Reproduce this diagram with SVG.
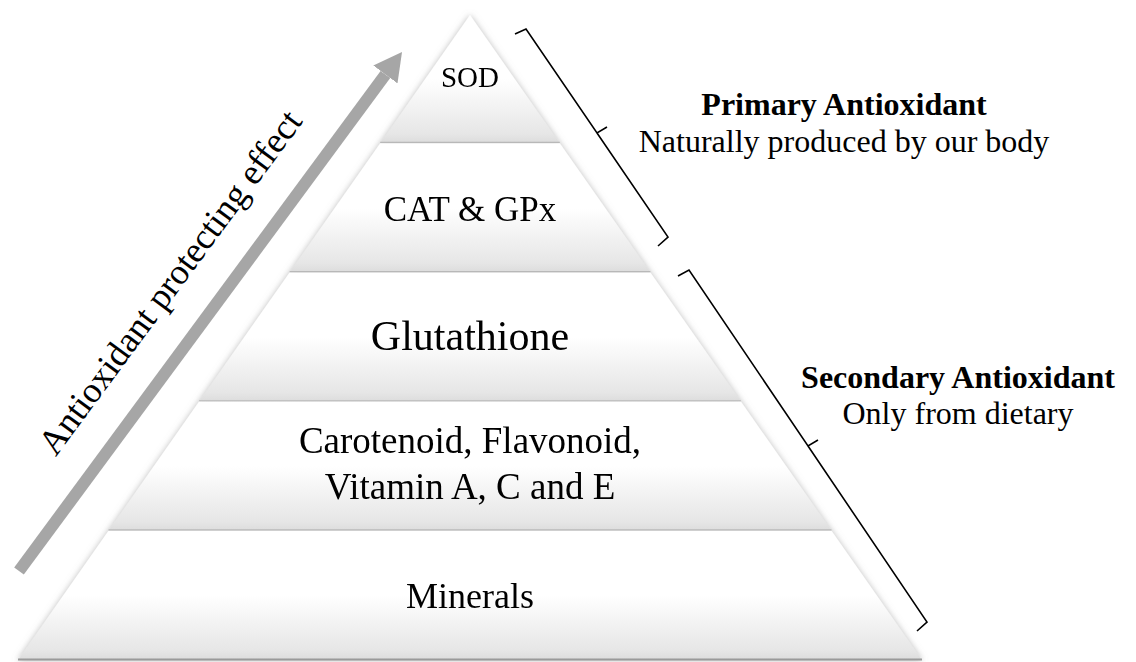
<svg xmlns="http://www.w3.org/2000/svg" width="1136" height="662" viewBox="0 0 1136 662">
<style>
text{font-family:"Liberation Serif","Times New Roman",serif;fill:#000;}
.lbl{text-anchor:middle;}
.b{font-weight:bold;}
.layer{fill:url(#lg);}
.edge{stroke:#b8b8b8;stroke-width:1.5;fill:none;}
.brace{stroke:#000;stroke-width:1.6;fill:none;stroke-linejoin:miter;}
</style>
<defs>
<linearGradient id="lg" x1="0" y1="0" x2="0" y2="1">
<stop offset="0" stop-color="#ffffff"/>
<stop offset="0.5" stop-color="#ffffff"/>
<stop offset="0.93" stop-color="#e6e6e6"/>
<stop offset="1" stop-color="#dcdcdc"/>
</linearGradient>
<filter id="sh" x="-10%" y="-10%" width="120%" height="120%">
<feGaussianBlur in="SourceAlpha" stdDeviation="3" result="b"/>
<feFlood flood-color="#888" flood-opacity="0.55"/>
<feComposite in2="b" operator="in" result="s"/>
<feMerge><feMergeNode in="s"/><feMergeNode in="SourceGraphic"/></feMerge>
</filter>
<marker id="ah" viewBox="0 0 28 30" refX="0" refY="15" markerWidth="28" markerHeight="30" markerUnits="userSpaceOnUse" orient="auto">
<path d="M0,0 L28,15 L0,30 z" fill="#a6a6a6"/>
</marker>
</defs>
<rect width="1136" height="662" fill="#fff"/>
<g id="pyramid" filter="url(#sh)">
<g id="sod">
<path class="layer" d="M470,15 L559.8,143.2 L380.2,143.2 Z"/>
<line class="edge" x1="380.2" y1="142.5" x2="559.8" y2="142.5"/>
<text class="lbl" x="470" y="87" font-size="29">SOD</text>
</g>
<g id="cat">
<path class="layer" d="M380.2,143.2 L559.8,143.2 L650.4,272.4 L289.6,272.4 Z"/>
<line class="edge" x1="289.6" y1="271.7" x2="650.4" y2="271.7"/>
<text class="lbl" x="470" y="221" font-size="35">CAT &amp; GPx</text>
</g>
<g id="glutathione">
<path class="layer" d="M289.6,272.4 L650.4,272.4 L740.9,401.6 L199.1,401.6 Z"/>
<line class="edge" x1="199.1" y1="400.9" x2="740.9" y2="400.9"/>
<text class="lbl" x="470" y="350" font-size="42">Glutathione</text>
</g>
<g id="carotenoid">
<path class="layer" d="M199.1,401.6 L740.9,401.6 L831.5,530.8 L108.5,530.8 Z"/>
<line class="edge" x1="108.5" y1="530.1" x2="831.5" y2="530.1"/>
<text class="lbl" x="470" y="453" font-size="37">Carotenoid, Flavonoid,</text>
<text class="lbl" x="470" y="499" font-size="37">Vitamin A, C and E</text>
</g>
<g id="minerals">
<path class="layer" d="M108.5,530.8 L831.5,530.8 L922,660 L18,660 Z"/>
<line x1="18" y1="659.5" x2="922" y2="659.5" stroke="#9a9a9a" stroke-width="2"/>
<text class="lbl" x="470" y="608" font-size="36">Minerals</text>
</g>
</g>
<g id="connectors">
<path d="M19,571 L385.4,74.5" stroke="#a6a6a6" stroke-width="12" fill="none" marker-end="url(#ah)"/>
<path class="brace" d="M515,34 L526,29 L597,133 L607,127 M597,133 L668,237 L658,246"/>
<path class="brace" d="M678,276 L689,270 L808,446 L818,440 M808,446 L927,622 L917,631"/>
</g>
<g id="arrow-label">
<text class="lbl" font-size="36" transform="translate(179.6,289.4) rotate(-53.58)">Antioxidant protecting effect</text>
</g>
<g id="primary-label">
<text class="lbl b" x="844" y="115" font-size="32">Primary Antioxidant</text>
<text class="lbl" x="844" y="152" font-size="32">Naturally produced by our body</text>
</g>
<g id="secondary-label">
<text class="lbl b" x="958" y="388" font-size="32">Secondary Antioxidant</text>
<text class="lbl" x="958" y="424" font-size="32">Only from dietary</text>
</g>
</svg>
